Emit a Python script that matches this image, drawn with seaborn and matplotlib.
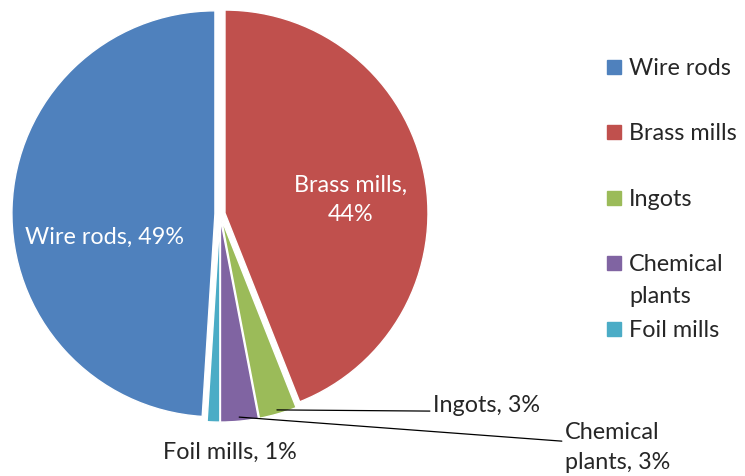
import seaborn as sns
import matplotlib.pyplot as plt
import numpy as np

categories = ["Wire rods", "Brass mills", "Ingots", "Chemical plants", "Foil mills"]
legend_labels = ["Wire rods", "Brass mills", "Ingots", "Chemical\nplants", "Foil mills"]
shares = [49, 44, 3, 3, 1]
data_labels = ["Wire rods, 49%", "Brass mills,\n44%", "Ingots, 3%", "Chemical\nplants, 3%", "Foil mills, 1%"]
colors = sns.color_palette(["#4F81BD", "#C0504D", "#9BBB59", "#8064A2", "#4BACC6"])

sns.set_theme(style="white")
plt.rcParams["font.family"] = ["Lato", "DejaVu Sans"]

fig = plt.figure(figsize=(7.45, 4.77), dpi=100)
ax = fig.add_axes([0, 0, 1, 1])

start = 90 + shares[0] / sum(shares) * 360
wedges, _ = ax.pie(shares, colors=colors, startangle=start, counterclock=False,
                   explode=[0.025] * 5, radius=1.0,
                   wedgeprops=dict(edgecolor="white", linewidth=1))

# px per unit = 203, centre at (220, 215) from top-left
ax.set_xlim(-220 / 203, 525 / 203)
ax.set_ylim(-262 / 203, 215 / 203)
ax.set_aspect("auto")
ax.axis("off")

fs = 16.8
txt_col = "#262626"
ax.text(-0.57, -0.11, data_labels[0], color="white", fontsize=fs, ha="center", va="center")
ax.text(0.645, 0.074, data_labels[1], color="white", fontsize=fs, ha="center", va="center",
        linespacing=1.5)


def edge_point(w, r=1.0):
    mid = np.deg2rad((w.theta1 + w.theta2) / 2)
    cx, cy = w.center
    return cx + r * np.cos(mid), cy + r * np.sin(mid)


ax.annotate(data_labels[2], xy=edge_point(wedges[2], 0.98), xytext=(1.05, -0.94),
            fontsize=fs, color=txt_col, ha="left", va="center",
            arrowprops=dict(arrowstyle="-", color="black", lw=0.9,
                            shrinkA=0, shrinkB=0, relpos=(0, 0.2)))
ax.annotate(data_labels[3], xy=edge_point(wedges[3], 0.98), xytext=(1.70, -1.145),
            fontsize=fs, color=txt_col, ha="left", va="center", linespacing=1.5,
            arrowprops=dict(arrowstyle="-", color="black", lw=0.9,
                            shrinkA=0, shrinkB=0, relpos=(0, 0.6)))
ax.text(0.05, -1.17, data_labels[4], fontsize=fs, color=txt_col, ha="center", va="center")

# legend
for i, (lab, col) in enumerate(zip(legend_labels, colors)):
    yc = 68 + 65.4 * i
    fig.patches.append(plt.Rectangle((607 / 745, (477 - yc - 7) / 477), 14 / 745, 14 / 477,
                                     transform=fig.transFigure, color=col))
    for k, line in enumerate(lab.split("\n")):
        fig.text(629 / 745, (477 - yc - 7 - 32 * k) / 477, line, fontsize=fs,
                 color=txt_col, ha="left", va="baseline")

fig.savefig("out.png", dpi=100)
